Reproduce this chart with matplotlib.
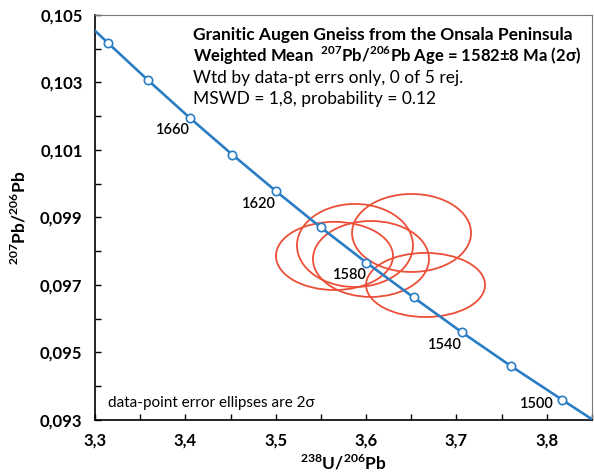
import matplotlib
matplotlib.use("Agg")
import matplotlib.pyplot as plt
from matplotlib.patches import Ellipse
from matplotlib.ticker import FixedLocator, FuncFormatter

plt.rcParams['font.family'] = ['Lato', 'DejaVu Sans']
plt.rcParams['mathtext.fontset'] = 'custom'
plt.rcParams['mathtext.rm'] = 'Lato'
plt.rcParams['mathtext.bf'] = 'Lato:bold'

# concordia age marks (Ma)
ages = [1700, 1680, 1660, 1640, 1620, 1600, 1580, 1560, 1540, 1520, 1500]
conc_x = [3.3139, 3.3589, 3.4049, 3.4520, 3.5002, 3.5496, 3.6004, 3.6526, 3.7059, 3.7607, 3.8169]
conc_y = [0.10418, 0.10306, 0.10195, 0.10086, 0.09978, 0.09871, 0.09766, 0.09663, 0.09560, 0.09459, 0.09360]
# line runs a bit past the end marks
line_x = [3.30] + conc_x + [3.85]
line_y = [0.10453] + conc_y + [0.09302]

labelled = [1660, 1620, 1580, 1540, 1500]
label_offsets = [(-12, -9), (-12, -9), (-12, -9), (-12, -9), (-18, -3)]

# 2 sigma error ellipses: centre x, centre y, full width, full height
ell_x = [3.5650, 3.5877, 3.6054, 3.6503, 3.6658]
ell_y = [0.09786, 0.09817, 0.09777, 0.09854, 0.09700]
ell_w = [0.1295, 0.1284, 0.1284, 0.1317, 0.1317]
ell_h = [0.00202, 0.00246, 0.00225, 0.00231, 0.00190]

xticks = [3.3, 3.4, 3.5, 3.6, 3.7, 3.8]
xminor = [3.35, 3.45, 3.55, 3.65, 3.75, 3.85]
yticks = [0.093, 0.095, 0.097, 0.099, 0.101, 0.103, 0.105]
yminor = [0.094, 0.096, 0.098, 0.100, 0.102, 0.104]

fig = plt.figure(figsize=(5.94, 4.74), dpi=100)
ax = fig.add_axes([0.160, 0.114, 0.8366, 0.8545])

blue = '#2a7dc4'
red = '#ec4f38'

ax.plot(line_x, line_y, color=blue, lw=1.9, zorder=3)
ax.plot(conc_x, conc_y, 'o', ms=6, mfc='white', mec=blue, mew=1.2, zorder=4)

for a, off in zip(labelled, label_offsets):
    i = ages.index(a)
    ax.annotate(str(a), (conc_x[i], conc_y[i]), xytext=off, textcoords='offset points',
                ha='center', va='center', fontsize=10.5, fontweight='semibold', zorder=5)

for x, y, w, h in zip(ell_x, ell_y, ell_w, ell_h):
    ax.add_patch(Ellipse((x, y), w, h, fill=False, ec=red, lw=1.3, zorder=2))

ax.set_xlim(3.3, 3.85)
ax.set_ylim(0.093, 0.105)
ax.xaxis.set_major_locator(FixedLocator(xticks))
ax.xaxis.set_minor_locator(FixedLocator(xminor))
ax.yaxis.set_major_locator(FixedLocator(yticks))
ax.yaxis.set_minor_locator(FixedLocator(yminor))
ax.xaxis.set_major_formatter(FuncFormatter(lambda v, p: f"{v:.1f}".replace('.', ',')))
ax.yaxis.set_major_formatter(FuncFormatter(lambda v, p: f"{v:.3f}".replace('.', ',')))
ax.tick_params(which='both', direction='in', length=4, width=1, top=False, right=False)
ax.tick_params(which='major', pad=9, labelsize=12)
for lab in ax.get_xticklabels() + ax.get_yticklabels():
    lab.set_fontweight('bold')

ax.spines['left'].set_linewidth(1.2)
ax.spines['bottom'].set_linewidth(1.2)
ax.spines['top'].set_color('#777777')
ax.spines['right'].set_color('#777777')

ax.set_xlabel(r'$^{\mathbf{238}}$U/$^{\mathbf{206}}$Pb', fontsize=12.5, fontweight='bold', labelpad=3)
ax.set_ylabel(r'$^{\mathbf{207}}$Pb/$^{\mathbf{206}}$Pb', fontsize=12.5, fontweight='bold', labelpad=8)

tx = 0.197
ax.text(tx, 0.938, 'Granitic Augen Gneiss from the Onsala Peninsula', transform=ax.transAxes,
        fontsize=12.5, fontweight='bold', va='baseline', ha='left')
ax.text(tx, 0.884, r'Weighted Mean  $^{\mathbf{207}}$Pb/$^{\mathbf{206}}$Pb Age = 1582±8 Ma (2σ)',
        transform=ax.transAxes, fontsize=12, fontweight='bold', va='baseline', ha='left')
ax.text(tx, 0.832, 'Wtd by data-pt errs only, 0 of 5 rej.', transform=ax.transAxes,
        fontsize=12.5, va='baseline', ha='left')
ax.text(tx, 0.780, 'MSWD = 1,8, probability = 0.12', transform=ax.transAxes,
        fontsize=12.5, va='baseline', ha='left')
ax.text(0.026, 0.042, 'data-point error ellipses are 2σ', transform=ax.transAxes,
        fontsize=11, va='center', ha='left')

fig.savefig('out.png', dpi=100)
